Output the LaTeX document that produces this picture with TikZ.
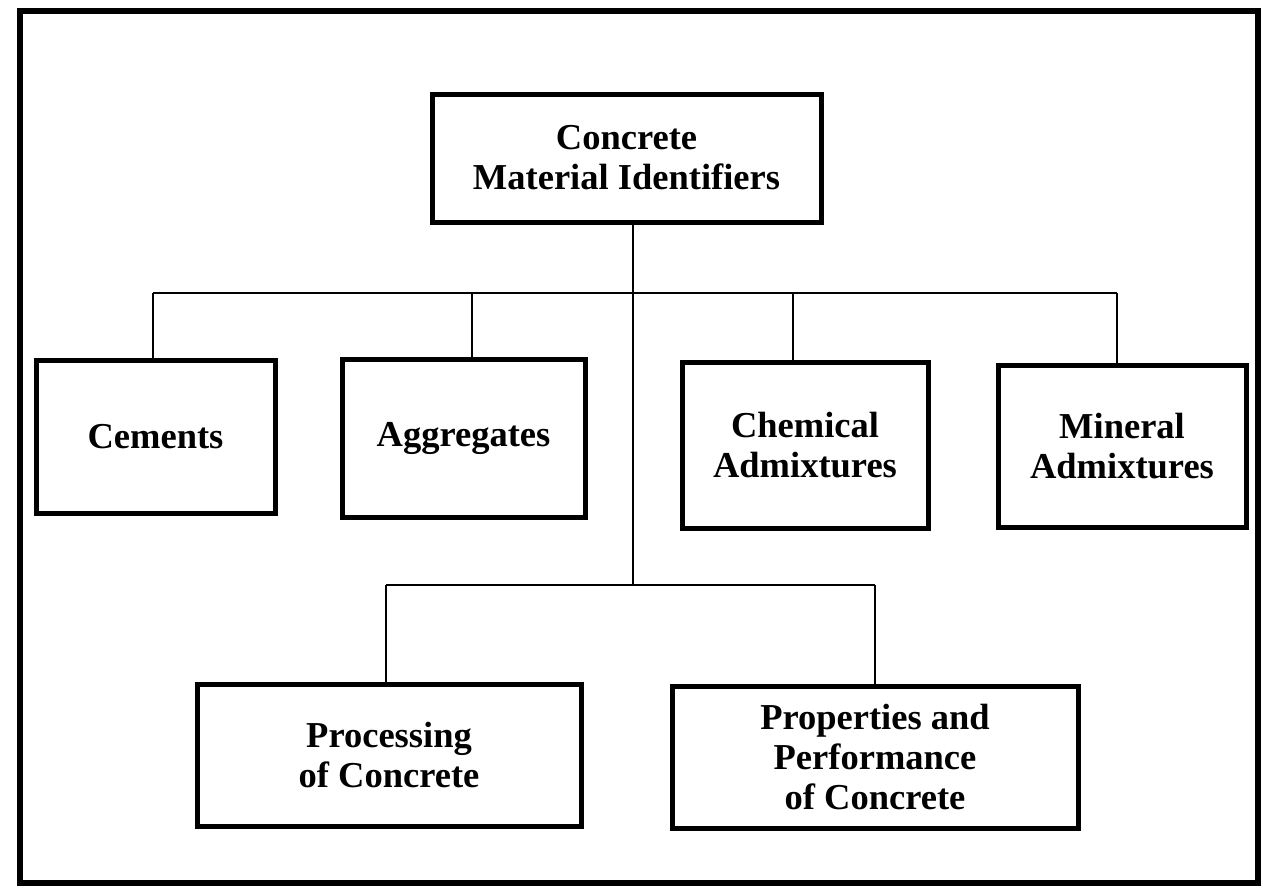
\documentclass[tikz,border=0pt]{standalone}
\usepackage{fontspec}
\setmainfont{Liberation Serif}
\begin{document}
\begin{tikzpicture}[x=1pt,y=-1pt,
  box/.style={draw=black,line width=5pt,rectangle,align=center,inner sep=0pt,
    font=\fontsize{36.5}{40}\selectfont\bfseries},
  conn/.style={draw=black,line width=1.6pt},
  frame/.style={draw=black,line width=6pt}]
\useasboundingbox (0,0) rectangle (1263,887);
\draw[frame] (20,11) rectangle (1258,883);
% boxes
\node[box,minimum width=389pt,minimum height=128pt] (top) at (626.5,158) {Concrete\\Material Identifiers};
\node[box,minimum width=239pt,minimum height=153pt] (cem) at (155.5,436.5) {Cements};
\node[box,minimum width=243pt,minimum height=158pt] (agg) at (463.5,438) {Aggregates};
\node[box,minimum width=246pt,minimum height=166pt] (chem) at (805,445) {Chemical\\Admixtures};
\node[box,minimum width=248pt,minimum height=162pt] (min) at (1122,446) {Mineral\\Admixtures};
\node[box,minimum width=384pt,minimum height=142pt] (proc) at (389,755) {Processing\\of Concrete};
\node[box,minimum width=406pt,minimum height=142pt] (prop) at (875,757) {Properties and\\Performance\\of Concrete};
% bus coordinates
\coordinate (j1) at (633,293);
\coordinate (j2) at (633,585);
\coordinate (b1) at (153,293);
\coordinate (b2) at (472,293);
\coordinate (b3) at (793,293);
\coordinate (b4) at (1117,293);
\coordinate (c1) at (386,585);
\coordinate (c2) at (875,585);
% connectors
\draw[conn] (top.south -| j1) -- (j2);
\draw[conn] (b1) -- (b4);
\draw[conn] (b1) -- (b1 |- cem.north);
\draw[conn] (b2) -- (b2 |- agg.north);
\draw[conn] (b3) -- (b3 |- chem.north);
\draw[conn] (b4) -- (b4 |- min.north);
\draw[conn] (c1) -- (c2);
\draw[conn] (c1) -- (c1 |- proc.north);
\draw[conn] (c2) -- (c2 |- prop.north);
\end{tikzpicture}
\end{document}
